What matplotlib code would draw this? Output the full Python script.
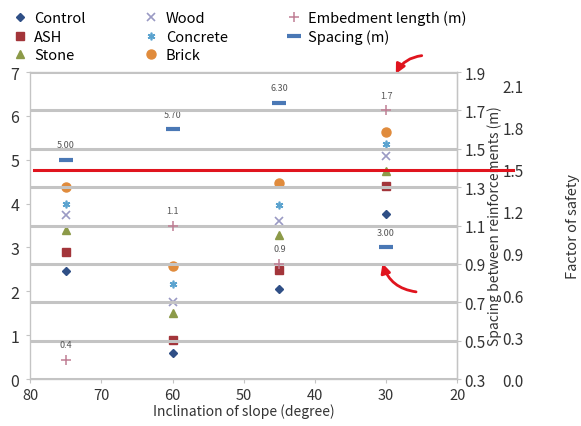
import matplotlib.pyplot as plt
import matplotlib.transforms as mtransforms

plt.rcParams['font.family'] = ['Noto Sans CJK JP', 'DejaVu Sans']

# slope inclination (degree)
slopes = [75, 60, 45, 30]

# material results (left axis)
control = [2.46, 0.59, 2.05, 3.76]
ash = [2.90, 0.89, 2.49, 4.40]
stone = [3.40, 1.50, 3.28, 4.74]
wood = [3.75, 1.75, 3.60, 5.08]
concrete = [4.00, 2.17, 3.97, 5.36]
brick = [4.37, 2.58, 4.47, 5.63]

# spacing (left axis scale) and embedment length (spacing axis)
spacing = [5.00, 5.70, 6.30, 3.00]
spacing_labels = ["5.00", "5.70", "6.30", "3.00"]
embedment = [0.4, 1.1, 0.9, 1.7]
embedment_labels = ["0.4", "1.1", "0.9", "1.7"]

fs_limit = 1.5

fig = plt.figure(figsize=(5.81, 4.27), dpi=100)
ax = fig.add_axes([0.052, 0.110, 0.735, 0.719])
ax2 = ax.twinx()
ax3 = ax.twinx()

grid_c = "#c4c4c4"
txt_c = "#333333"

ax.set_xlim(80, 20)
ax.set_ylim(0, 7)
ax.set_xticks([80, 70, 60, 50, 40, 30, 20])
ax.set_yticks(range(0, 8))
ax.tick_params(axis='x', labelsize=10.5, colors=txt_c, length=3, color=grid_c)
ax.tick_params(axis='y', labelsize=11.5, colors=txt_c, length=3, color=grid_c, pad=5)
ax.set_xlabel("Inclination of slope (degree)", fontsize=10, color=txt_c, labelpad=1)

ax2.set_ylim(0.3, 1.9)
ax2.set_yticks([0.3, 0.5, 0.7, 0.9, 1.1, 1.3, 1.5, 1.7, 1.9])
ax2.yaxis.grid(True, color=grid_c, linewidth=2.2)
ax2.set_axisbelow(True)
ax2.tick_params(axis='y', labelsize=11, colors=txt_c, length=3, color=grid_c, pad=2)
ax2.set_ylabel("Spacing between reinforcements (m)", fontsize=10, color=txt_c, labelpad=1)

ax3.set_ylim(0, 2.2)
ax3.set_yticks([0.0, 0.3, 0.6, 0.9, 1.2, 1.5, 1.8, 2.1])
ax3.spines['right'].set_position(('axes', 1.1))
ax3.spines['right'].set_visible(False)
ax3.tick_params(axis='y', labelsize=11, colors=txt_c, length=0, pad=2)
ax3.set_ylabel("Factor of safety", fontsize=10.5, color=txt_c, labelpad=30)

for a in (ax, ax2, ax3):
    for s in ('left', 'bottom', 'top'):
        a.spines[s].set_color(grid_c)
ax2.spines['right'].set_color(grid_c)

ms = 5.5
h = []
h += ax.plot(slopes, control, 'D', color="#2f4f86", ms=ms - 1, ls='none', label="Control", zorder=5)
h += ax.plot(slopes, ash, 's', color="#a3353a", ms=ms + 0.5, ls='none', label="ASH", zorder=5)
h += ax.plot(slopes, stone, '^', color="#8c9a48", ms=ms, ls='none', label="Stone", zorder=5)
h += ax.plot(slopes, wood, 'x', color="#9a9ac4", ms=ms, mew=1.2, ls='none', label="Wood", zorder=5)
h += ax.plot(slopes, concrete, marker=(6, 2, 0), color="#5ba3cf", ms=ms, mew=1.2, ls='none',
             label="Concrete", zorder=5)
h += ax.plot(slopes, brick, 'o', color="#e08b3c", ms=ms + 1, ls='none', label="Brick", zorder=5)
h += ax2.plot(slopes, embedment, '+', color="#c07f95", ms=ms + 1, mew=1.1, ls='none',
              label="Embedment length (m)", zorder=5)
h += ax.plot(slopes, spacing, '_', color="#4a78b5", ms=ms + 4, mew=3, ls='none',
             label="Spacing (m)", zorder=5)

for x, y, t in zip(slopes, spacing, spacing_labels):
    ax.annotate(t, (x, y), xytext=(0, 9), textcoords='offset points', ha='center',
                fontsize=6.5, color="#555555")
for x, y, t in zip(slopes, embedment, embedment_labels):
    ax2.annotate(t, (x, y), xytext=(0, 9), textcoords='offset points', ha='center',
                 fontsize=6.5, color="#555555")

# factor of safety limit line (drawn across into the axis area)
trans = mtransforms.blended_transform_factory(ax3.transAxes, ax3.transData)
ax3.plot([0.01, 1.13], [fs_limit, fs_limit], color="#e0141e", lw=2.2,
         transform=trans, clip_on=False, zorder=6)

# red arrows
ax.annotate("", xy=(28.8, 6.9), xytext=(24.6, 7.38), xycoords='data',
            arrowprops=dict(arrowstyle='-|>', color="#e0141e", lw=2,
                            connectionstyle="arc3,rad=0.3", mutation_scale=14),
            annotation_clip=False)
ax.annotate("", xy=(30.6, 2.7), xytext=(25.4, 1.98), xycoords='data',
            arrowprops=dict(arrowstyle='-|>', color="#e0141e", lw=2,
                            connectionstyle="arc3,rad=-0.35", mutation_scale=14),
            annotation_clip=False)

fig.legend(handles=h, loc='upper left', bbox_to_anchor=(0.005, 0.995), ncol=3,
           fontsize=10.5, frameon=False,
           handletextpad=0.5, columnspacing=4.0, labelspacing=0.3,
           handlelength=1.0, borderpad=0.15)

fig.savefig("out.png", dpi=100)
